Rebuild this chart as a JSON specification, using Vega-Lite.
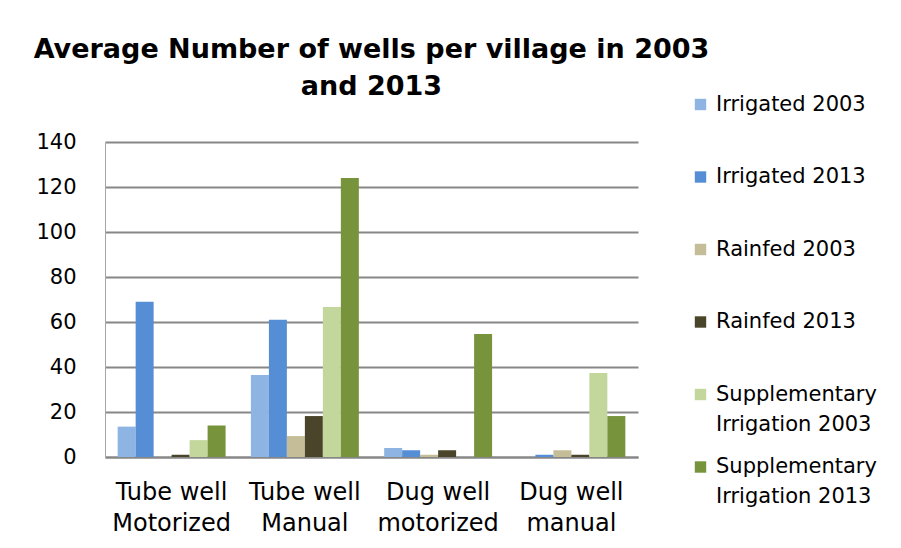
{
  "$schema": "https://vega.github.io/schema/vega-lite/v6.json",
  "width": 533,
  "height": 315,
  "autosize": {"type": "none"},
  "padding": {"left": 105, "top": 142, "right": 263, "bottom": 91},
  "background": "white",
  "config": {
    "view": {"stroke": null},
    "font": "DejaVu Sans"
  },
  "title": {
    "text": ["Average Number of wells per village in 2003", "and 2013"],
    "font": "DejaVu Sans",
    "fontWeight": "bold",
    "fontSize": 27,
    "lineHeight": 37,
    "color": "#000000",
    "anchor": "middle",
    "frame": "group",
    "baseline": "bottom",
    "offset": -34
  },
  "data": {
    "values": [
      {"category": "Tube well Motorized", "series": "Irrigated 2003", "value": 13.5},
      {"category": "Tube well Motorized", "series": "Irrigated 2013", "value": 69},
      {"category": "Tube well Motorized", "series": "Rainfed 2003", "value": 0},
      {"category": "Tube well Motorized", "series": "Rainfed 2013", "value": 1},
      {"category": "Tube well Motorized", "series": "Supplementary Irrigation 2003", "value": 7.5},
      {"category": "Tube well Motorized", "series": "Supplementary Irrigation 2013", "value": 14},
      {"category": "Tube well Manual", "series": "Irrigated 2003", "value": 36.5},
      {"category": "Tube well Manual", "series": "Irrigated 2013", "value": 61},
      {"category": "Tube well Manual", "series": "Rainfed 2003", "value": 9.3},
      {"category": "Tube well Manual", "series": "Rainfed 2013", "value": 18.2},
      {"category": "Tube well Manual", "series": "Supplementary Irrigation 2003", "value": 66.7},
      {"category": "Tube well Manual", "series": "Supplementary Irrigation 2013", "value": 124},
      {"category": "Dug well motorized", "series": "Irrigated 2003", "value": 4},
      {"category": "Dug well motorized", "series": "Irrigated 2013", "value": 3},
      {"category": "Dug well motorized", "series": "Rainfed 2003", "value": 1},
      {"category": "Dug well motorized", "series": "Rainfed 2013", "value": 3},
      {"category": "Dug well motorized", "series": "Supplementary Irrigation 2003", "value": 0},
      {"category": "Dug well motorized", "series": "Supplementary Irrigation 2013", "value": 54.7},
      {"category": "Dug well manual", "series": "Irrigated 2003", "value": 0},
      {"category": "Dug well manual", "series": "Irrigated 2013", "value": 1},
      {"category": "Dug well manual", "series": "Rainfed 2003", "value": 3},
      {"category": "Dug well manual", "series": "Rainfed 2013", "value": 1},
      {"category": "Dug well manual", "series": "Supplementary Irrigation 2003", "value": 37.3},
      {"category": "Dug well manual", "series": "Supplementary Irrigation 2013", "value": 18.2}
    ]
  },
  "mark": {"type": "bar"},
  "encoding": {
    "x": {
      "field": "category",
      "type": "nominal",
      "sort": ["Tube well Motorized", "Tube well Manual", "Dug well motorized", "Dug well manual"],
      "scale": {"paddingInner": 0.19, "paddingOuter": 0.095},
      "axis": {
        "title": null,
        "labelAngle": 0,
        "labelExpr": "datum.label == 'Tube well Motorized' ? ['Tube well', 'Motorized'] : datum.label == 'Tube well Manual' ? ['Tube well', 'Manual'] : datum.label == 'Dug well motorized' ? ['Dug well', 'motorized'] : ['Dug well', 'manual']",
        "labelFont": "DejaVu Sans",
        "labelFontSize": 24,
        "labelLineHeight": 31,
        "labelColor": "#000000",
        "labelBaseline": "top",
        "labelPadding": 23,
        "ticks": false,
        "domainColor": "#878787",
        "domainWidth": 2,
        "labelLimit": 0
      }
    },
    "xOffset": {
      "field": "series",
      "type": "nominal",
      "sort": ["Irrigated 2003", "Irrigated 2013", "Rainfed 2003", "Rainfed 2013", "Supplementary Irrigation 2003", "Supplementary Irrigation 2013"],
      "scale": {"paddingInner": 0, "paddingOuter": 0}
    },
    "y": {
      "field": "value",
      "type": "quantitative",
      "scale": {"domain": [0, 140], "nice": false},
      "axis": {
        "title": null,
        "values": [0, 20, 40, 60, 80, 100, 120, 140],
        "labelFont": "DejaVu Sans",
        "labelFontSize": 21,
        "labelColor": "#000000",
        "labelPadding": 29,
        "ticks": false,
        "grid": true,
        "gridColor": "#878787",
        "gridWidth": 2,
        "domainColor": "#a6a6a6",
        "domainWidth": 1
      }
    },
    "color": {
      "field": "series",
      "type": "nominal",
      "scale": {
        "domain": ["Irrigated 2003", "Irrigated 2013", "Rainfed 2003", "Rainfed 2013", "Supplementary Irrigation 2003", "Supplementary Irrigation 2013"],
        "range": ["#8EB4E3", "#558ED5", "#C4BD97", "#4A452A", "#C3D69B", "#77933C"]
      },
      "legend": {
        "title": null,
        "orient": "none",
        "legendX": 585,
        "legendY": -48,
        "direction": "vertical",
        "gridAlign": "all",
        "rowPadding": 20.5,
        "symbolType": "square",
        "symbolSize": 130,
        "symbolStrokeWidth": 0,
        "labelFont": "DejaVu Sans",
        "labelFontSize": 21,
        "labelColor": "#000000",
        "labelOffset": 5,
        "labelLimit": 0,
        "labelExpr": "datum.label == 'Supplementary Irrigation 2003' ? ['Supplementary', 'Irrigation 2003'] : datum.label == 'Supplementary Irrigation 2013' ? ['Supplementary', 'Irrigation 2013'] : datum.label",
        "encode": {
          "labels": {"update": {"lineHeight": {"value": 30}}}
        }
      }
    }
  }
}
